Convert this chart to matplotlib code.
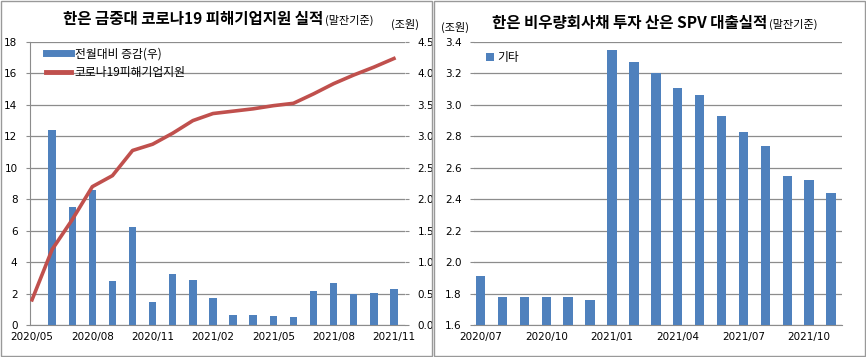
import matplotlib.pyplot as plt
import matplotlib.patches as patches
from matplotlib.lines import Line2D
import numpy as np

plt.rcParams['font.family'] = ['Noto Sans CJK KR', 'DejaVu Sans']

blue = "#4F81BD"
red = "#C0504D"
grid_c = "#8c8c8c"

# left chart: 코로나19 피해기업지원
left_months = ["2020/05", "2020/06", "2020/07", "2020/08", "2020/09", "2020/10", "2020/11",
               "2020/12", "2021/01", "2021/02", "2021/03", "2021/04", "2021/05", "2021/06",
               "2021/07", "2021/08", "2021/09", "2021/10", "2021/11"]
support_total = [1.6, 4.8, 6.7, 8.8, 9.5, 11.1, 11.5, 12.2, 13.0, 13.45, 13.6, 13.75,
                 13.95, 14.1, 14.7, 15.35, 15.9, 16.4, 16.95]
monthly_change = [np.nan, 3.10, 1.87, 2.14, 0.70, 1.56, 0.37, 0.81, 0.72, 0.43, 0.16, 0.16,
                  0.15, 0.13, 0.54, 0.67, 0.49, 0.51, 0.58]

# right chart: SPV 대출
right_months = ["2020/07", "2020/08", "2020/09", "2020/10", "2020/11", "2020/12", "2021/01",
                "2021/02", "2021/03", "2021/04", "2021/05", "2021/06", "2021/07", "2021/08",
                "2021/09", "2021/10", "2021/11"]
spv_loans = [1.91, 1.78, 1.78, 1.78, 1.78, 1.76, 3.35, 3.27, 3.20, 3.11, 3.06, 2.93, 2.83,
             2.74, 2.55, 2.52, 2.44]

W, H = 866, 357
fig = plt.figure(figsize=(W / 100, H / 100), dpi=100)

# panel borders
for x0, x1 in [(1, 432), (434, 865)]:
    fig.patches.append(patches.Rectangle((x0 / W, 1 / H), (x1 - x0) / W, (H - 2) / H,
                                         transform=fig.transFigure, fill=False,
                                         edgecolor="#999999", lw=1))

def px_axes(x0, y0, x1, y1):
    return [x0 / W, 1 - y1 / H, (x1 - x0) / W, (y1 - y0) / H]

tick_font = dict(fontsize=7.5, family='DejaVu Sans')

# ---------- left ----------
ax_bar = fig.add_axes(px_axes(30, 42, 405, 325))
ax_line = ax_bar.twinx()
ax_line.set_zorder(ax_bar.get_zorder() + 1)
ax_line.patch.set_visible(False)

x = np.arange(len(left_months))
ax_bar.bar(x, monthly_change, width=0.37, color=blue, zorder=3)
ax_bar.set_ylim(0, 4.5)
ax_bar.set_yticks(np.arange(0, 4.51, 0.5))
ax_bar.set_yticklabels([f"{v:.1f}" for v in np.arange(0, 4.51, 0.5)], **tick_font)
ax_bar.yaxis.tick_right()
ax_bar.grid(axis='y', color=grid_c, lw=0.9, zorder=0)
ax_bar.set_axisbelow(True)

ax_line.plot(x, support_total, color=red, lw=2.6, zorder=4)
ax_line.set_ylim(0, 18)
ax_line.set_yticks(np.arange(0, 18.1, 2))
ax_line.set_yticklabels([str(int(v)) for v in np.arange(0, 18.1, 2)], **tick_font)
ax_line.yaxis.tick_left()
ax_line.set_xlim(-0.1, 18.55)

ax_bar.set_xticks(x[::3])
ax_bar.set_xticklabels(left_months[::3], **tick_font)
for a in (ax_bar, ax_line):
    for s in a.spines.values():
        s.set_visible(False)
    a.tick_params(axis='y', length=3, color=grid_c, pad=6)
    a.tick_params(axis='x', length=0, pad=5)
ax_line.spines['left'].set_visible(True)
ax_line.spines['left'].set_color(grid_c)
ax_bar.spines['bottom'].set_visible(True)
ax_bar.spines['bottom'].set_color(grid_c)

handles = [Line2D([], [], color=blue, lw=5), Line2D([], [], color=red, lw=3.5)]
ax_line.legend(handles, ["전월대비 증감(우)", "코로나19피해기업지원"], loc='upper left',
               bbox_to_anchor=(0.02, 1.01), frameon=False, fontsize=8.5, handlelength=2.1,
               handletextpad=0.35, labelspacing=0.45, borderaxespad=0.3)

fig.text(323 / W, 1 - 24 / H, "한은 금중대 코로나19 피해기업지원 실적", ha='right', va='baseline',
         fontsize=11.2, fontweight='bold')
fig.text(325 / W, 1 - 24 / H, "(말잔기준)", ha='left', va='baseline', fontsize=8)
fig.text(405 / W, 1 - 24 / H, "(조원)", ha='center', va='center', fontsize=8)

# ---------- right ----------
ax2 = fig.add_axes(px_axes(474, 42, 842, 325))
x2 = np.arange(len(right_months))
ax2.bar(x2, spv_loans, width=0.43, color=blue, zorder=3, label="기타")
ax2.set_ylim(1.6, 3.4)
ax2.set_xlim(-0.3, 16.5)
yt = np.arange(1.6, 3.41, 0.2)
ax2.set_yticks(yt)
ax2.set_yticklabels([f"{v:.1f}" for v in yt], **tick_font)
ax2.set_xticks(x2[::3])
ax2.set_xticklabels(right_months[::3], **tick_font)
ax2.grid(axis='y', color=grid_c, lw=0.9, zorder=0)
ax2.set_axisbelow(True)
for s in ax2.spines.values():
    s.set_visible(False)
ax2.spines['bottom'].set_visible(True)
ax2.spines['bottom'].set_color(grid_c)
ax2.tick_params(axis='y', length=3, color=grid_c, pad=6)
ax2.tick_params(axis='x', length=0, pad=5)
ax2.legend(loc='upper left', bbox_to_anchor=(0.005, 1.005), frameon=False, fontsize=8.5,
           handlelength=0.6, handleheight=0.6, handletextpad=0.3)

fig.text(767 / W, 1 - 28 / H, "한은 비우량회사채 투자 산은 SPV 대출실적", ha='right', va='baseline',
         fontsize=11.2, fontweight='bold')
fig.text(769 / W, 1 - 28 / H, "(말잔기준)", ha='left', va='baseline', fontsize=8)
fig.text(455 / W, 1 - 27 / H, "(조원)", ha='center', va='center', fontsize=8)

fig.savefig("out.png", dpi=100)
